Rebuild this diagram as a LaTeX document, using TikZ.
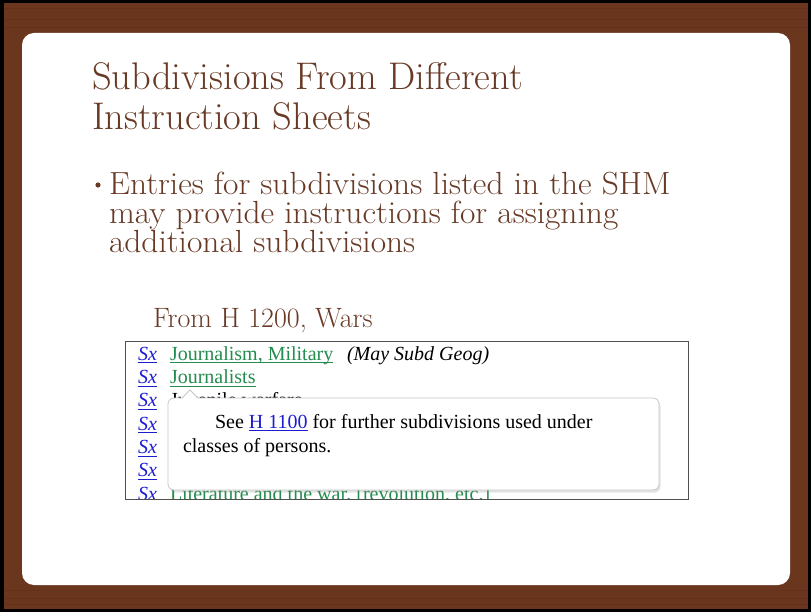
\documentclass[tikz,border=0pt]{standalone}
\usepackage{fontspec}
\usetikzlibrary{shadows}
\newfontfamily\shotfont{Liberation Serif}
\definecolor{wood}{RGB}{106,54,30}
\definecolor{wooddark}{RGB}{88,42,22}
\definecolor{woodtext}{RGB}{104,58,38}
\definecolor{linkgreen}{RGB}{36,140,78}
\definecolor{linkblue}{RGB}{28,28,210}
\definecolor{boxgray}{RGB}{80,80,80}
\newsavebox{\ulnkbox}
\newcommand{\ulnk}[1]{\sbox{\ulnkbox}{#1}\rlap{\rule[-3.2pt]{\wd\ulnkbox}{0.9pt}}\usebox{\ulnkbox}}
\begin{document}
\begin{tikzpicture}[x=1pt,y=-1pt,
  every node/.style={inner sep=0pt,outer sep=0pt,anchor=base west},
  titletext/.style={text=woodtext,font=\fontsize{38.5}{40}\selectfont,align=left},
  bodytext/.style={text=woodtext,font=\fontsize{32}{28.5}\selectfont,align=left,xscale=1.045,transform shape},
  captext/.style={text=woodtext,font=\fontsize{28}{30}\selectfont},
  shot/.style={font=\shotfont\fontsize{20}{23}\selectfont},
  sxlink/.style={shot,text=linkblue},
  greenlink/.style={shot,text=linkgreen},
  plain/.style={shot,text=black},
  ]
\useasboundingbox (0,0) rectangle (811,612);
% wood frame
\fill[wood] (0,0) rectangle (811,612);
\foreach \yy in {8,19,27,590,598,604}{
  \draw[wooddark,opacity=0.35,line width=0.8pt] (3,\yy) -- (808,\yy);
}
\draw[black,line width=3.5pt] (1.75,1.75) rectangle (809.25,610.25);
% white slide
\fill[white,rounded corners=12pt] (22,33) rectangle (790,585);

% title (anchor at baseline of last line)
\node[titletext] (title) at (92,130) {Subdivisions From Different\\Instruction Sheets};

% bullet
\fill[woodtext] (98,185) circle (2.6pt);
\node[bodytext] (body) at (109,253) {Entries for subdivisions listed in the SHM\\may provide instructions for assigning\\additional subdivisions};

% caption
\node[captext] (cap) at (153,327) {From H \oldstylenums{1200}, Wars};

% screenshot
\begin{scope}
\clip (125,341) rectangle (688,499);
\node[sxlink] (s1) at (138,360) {\ulnk{\textit{Sx}}};
\node[sxlink] (s2) at (138,383.3) {\ulnk{\textit{Sx}}};
\node[sxlink] (s3) at (138,406.6) {\ulnk{\textit{Sx}}};
\node[sxlink] (s4) at (138,430) {\ulnk{\textit{Sx}}};
\node[sxlink] (s5) at (138,453.3) {\ulnk{\textit{Sx}}};
\node[sxlink] (s6) at (138,476.6) {\ulnk{\textit{Sx}}};
\node[sxlink] (s7) at (138,500.5) {\ulnk{\textit{Sx}}};
\node[greenlink] (r1) at (170,360) {\ulnk{Journalism, Military}};
\node[plain] (r1b) at (347,360) {\textit{(May Subd Geog)}};
\node[greenlink] (r2) at (170,383.3) {\ulnk{Journalists}};
\node[plain] (r3) at (170,406.6) {Juvenile warfare};
\node[greenlink] (r7) at (170,500.5) {\ulnk{Literature and the war, [revolution, etc.]}};
\end{scope}
\draw[boxgray,line width=1pt] (125,341) rectangle (688,499);

% popup
\node[anchor=north west,minimum width=491pt,minimum height=92pt,
  draw=black!22,line width=0.8pt,fill=white,rounded corners=6pt,
  drop shadow={opacity=0.22,shadow xshift=1.5pt,shadow yshift=-2.5pt}] (pop) at (168,398) {};
\fill[white] (182,398.8) -- (190,390) -- (198,398.8) -- cycle;
\draw[black!22,line width=0.8pt] (182,398) -- (190,390) -- (198,398);
\node[plain] (p1) at (215,428) {See \textcolor{linkblue}{\ulnk{H 1100}} for further subdivisions used under};
\node[plain] (p2) at (183,452) {classes of persons.};
\end{tikzpicture}
\end{document}
